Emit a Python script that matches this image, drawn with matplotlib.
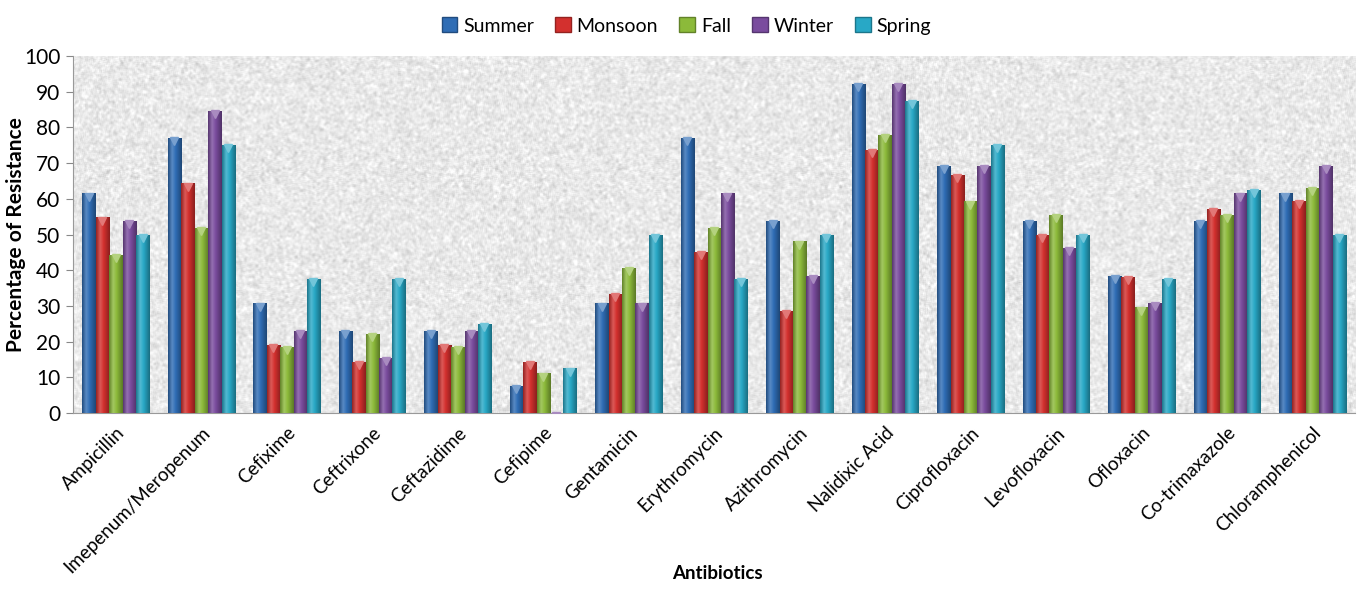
import matplotlib.pyplot as plt
import numpy as np
from matplotlib.colors import LinearSegmentedColormap, to_rgb
from matplotlib.patches import Patch

ANTIBIOTICS = ['Ampicillin', 'Imepenum/Meropenum', 'Cefixime', 'Ceftrixone', 'Ceftazidime',
               'Cefipime', 'Gentamicin', 'Erythromycin', 'Azithromycin', 'Nalidixic Acid',
               'Ciprofloxacin', 'Levofloxacin', 'Ofloxacin', 'Co-trimaxazole', 'Chloramphenicol']
SEASONS = ['Summer', 'Monsoon', 'Fall', 'Winter', 'Spring']

summer = [61.5, 77.0, 30.7, 23.0, 23.0, 7.7, 30.7, 77.0, 53.8, 92.3, 69.2, 53.8, 38.5, 53.8, 61.5]
monsoon = [54.8, 64.3, 19.0, 14.3, 19.0, 14.3, 33.3, 45.2, 28.6, 73.8, 66.7, 50.0, 38.1, 57.1, 59.5]
fall = [44.4, 51.9, 18.5, 22.2, 18.5, 11.1, 40.7, 51.9, 48.1, 77.8, 59.3, 55.6, 29.6, 55.6, 63.0]
winter = [53.8, 84.6, 23.0, 15.4, 23.0, 0.0, 30.7, 61.5, 38.5, 92.3, 69.2, 46.2, 30.8, 61.5, 69.2]
spring = [50.0, 75.0, 37.5, 37.5, 25.0, 12.5, 50.0, 37.5, 50.0, 87.5, 75.0, 50.0, 37.5, 62.5, 50.0]

SERIES = [summer, monsoon, fall, winter, spring]
COLORS = ['#2F6DB5', '#D3302E', '#8CBA3A', '#7A4C9E', '#28A8C6']

FONT = ['Lato', 'DejaVu Sans']
BAR_WIDTH = 0.157


def shade(color, k):
    r = np.array(to_rgb(color))
    if k >= 0:
        return tuple(r + (1 - r) * k)
    return tuple(r * (1 + k))


def cylinder_cmap(color):
    # dark edges, bright stripe left of centre, like a rounded column
    stops = [(0.0, shade(color, -0.3)), (0.3, shade(color, 0.2)),
             (0.55, shade(color, 0.0)), (1.0, shade(color, -0.35))]
    return LinearSegmentedColormap.from_list('cyl', stops)


def paper_texture(h, w, seed=3):
    rng = np.random.default_rng(seed)
    img = rng.normal(size=(h, w))
    k = np.ones(3) / 3
    for axis in (0, 1):
        img = np.apply_along_axis(lambda v: np.convolve(v, k, mode='same'), axis, img)
    img = (img - img.min()) / (img.max() - img.min())
    return 0.76 + 0.3 * img


plt.rcParams['font.family'] = FONT
fig = plt.figure(figsize=(13.59, 5.94), dpi=100)
ax = fig.add_axes([0.0537, 0.3047, 0.9434, 0.601])

n = len(ANTIBIOTICS)
x = np.arange(n)
ax.set_xlim(-0.5, n - 0.5)
ax.set_ylim(0, 100)

tex = np.clip(paper_texture(360, 1280), 0, 1)
ax.imshow(tex, cmap='gray', vmin=0, vmax=1, extent=(-0.5, n - 0.5, 0, 100),
          aspect='auto', zorder=0, interpolation='bilinear')

grad = np.linspace(0, 1, 64).reshape(1, -1)
for i, (vals, color) in enumerate(zip(SERIES, COLORS)):
    offs = (i - 2) * BAR_WIDTH
    bars = ax.bar(x + offs, vals, BAR_WIDTH * 0.97, color=color, zorder=2)
    cmap = cylinder_cmap(color)
    for b in bars:
        bx, bw, bh = b.get_x(), b.get_width(), b.get_height()
        if bh <= 0:
            continue
        im = ax.imshow(grad, cmap=cmap, extent=(bx, bx + bw, 0, bh),
                       aspect='auto', zorder=3, interpolation='bilinear')
        im.set_clip_path(b)
    ax.plot(x + offs, np.array(vals) - 0.9, linestyle='none', marker='v',
            markersize=6, color=shade(color, 0.35), zorder=4)

ax.set_yticks(range(0, 101, 10))
ax.tick_params(axis='y', labelsize=15, length=5, color='#888888', pad=4)
ax.set_xticks(x)
ax.set_xticklabels(ANTIBIOTICS, rotation=45, ha='right', rotation_mode='anchor', fontsize=13.5)
ax.tick_params(axis='x', length=0, pad=8)
for side in ('top', 'right'):
    ax.spines[side].set_visible(False)
for side in ('left', 'bottom'):
    ax.spines[side].set_color('#999999')

ax.set_ylabel('Percentage of Resistance', fontsize=15, fontweight='bold')
ax.yaxis.set_label_coords(-0.037, 0.5)
fig.text(0.528, 0.025, 'Antibiotics', ha='center', fontsize=13.5, fontweight='bold')

handles = [Patch(facecolor=c, edgecolor=shade(c, -0.3), label=s) for s, c in zip(SEASONS, COLORS)]
fig.legend(handles=handles, loc='upper center', bbox_to_anchor=(0.505, 1.0), ncol=5,
           frameon=False, fontsize=14, handlelength=0.8, handleheight=0.8,
           handletextpad=0.3, columnspacing=1.1)

fig.savefig('out.png', dpi=100)
